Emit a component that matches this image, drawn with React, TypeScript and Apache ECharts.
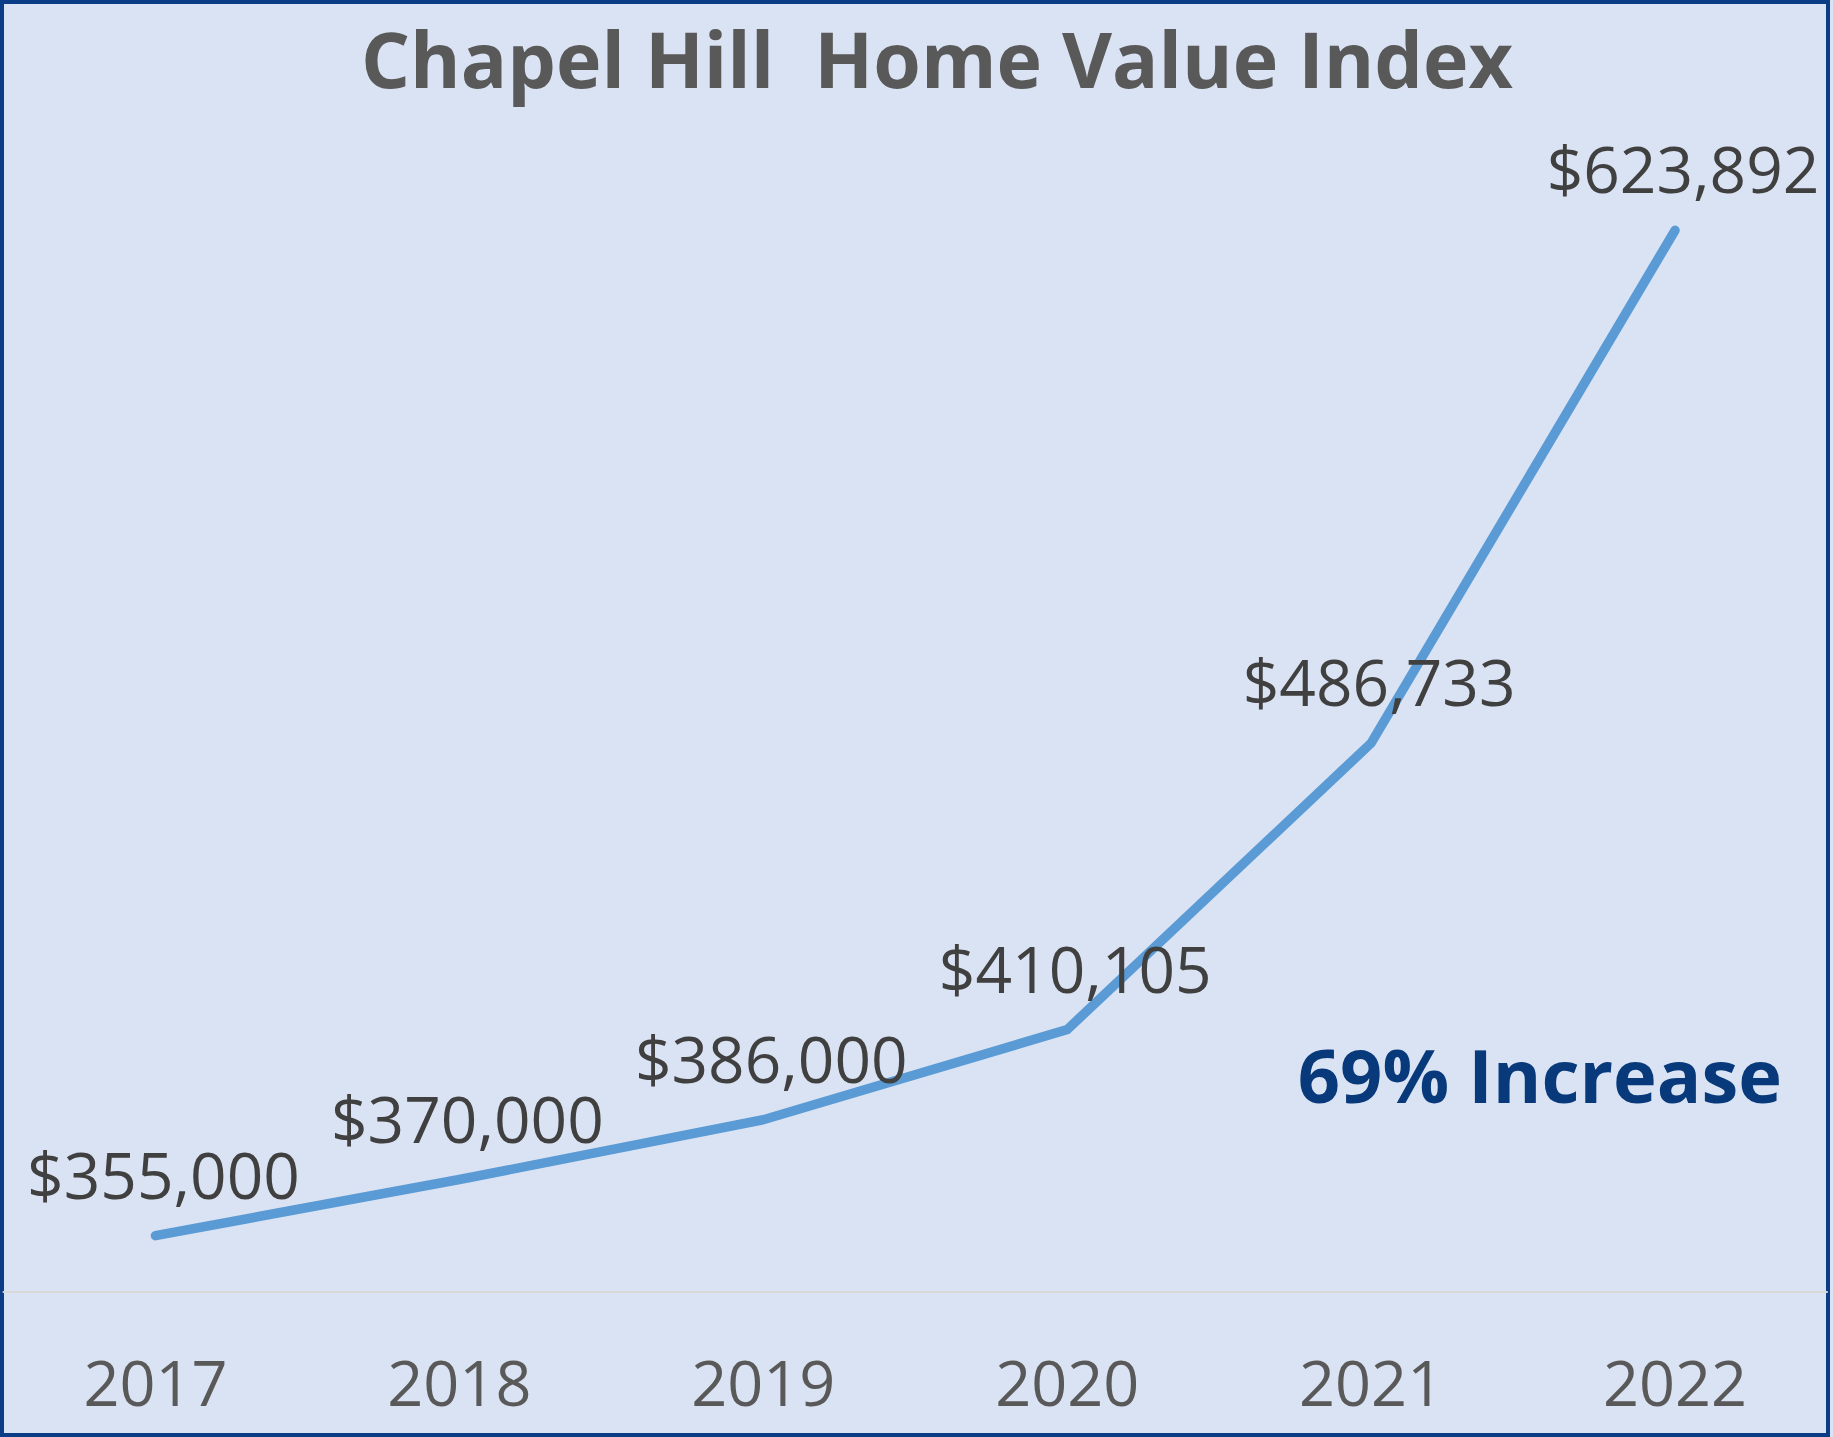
import React, { useEffect, useRef } from "react";
import * as echarts from "echarts";

const years = ["2017", "2018", "2019", "2020", "2021", "2022"];
const homeValues = [355000, 370000, 386000, 410105, 486733, 623892];
const titleText = "Chapel Hill  Home Value Index";
const noteText = "69% Increase";

const fmt = (v: number) => "$" + v.toLocaleString("en-US");

export default function App() {
  const ref = useRef<HTMLDivElement>(null);
  useEffect(() => {
    if (!ref.current) return;
    const chart = echarts.init(ref.current, undefined, { renderer: "svg" });
    chart.setOption({
      animation: false,
      backgroundColor: "#DAE3F3",
      textStyle: { fontFamily: "Open Sans" },
      grid: { left: 3.5, right: 6, top: 132.7, bottom: 1437 - 1291.7 },
      xAxis: {
        type: "category",
        data: years,
        boundaryGap: true,
        axisLine: { show: true, lineStyle: { color: "#D9D9D9", width: 2 } },
        axisTick: { show: false },
        axisLabel: { color: "#595959", fontSize: 63, fontFamily: "Open Sans", margin: 58 },
      },
      yAxis: {
        type: "value",
        min: 340000,
        max: 650000,
        show: false,
        splitLine: { show: false },
      },
      series: [
        {
          type: "line",
          data: homeValues,
          symbol: "circle",
          symbolSize: 1,
          showSymbol: true,
          itemStyle: { color: "rgba(0,0,0,0)" },
          lineStyle: { color: "#5B9BD5", width: 9.5, cap: "round", join: "miter" },
          label: {
            show: true,
            position: "top",
            distance: 29,
            offset: [8, 0],
            formatter: (p: any) => fmt(p.value),
            color: "#404040",
            fontSize: 64,
            fontFamily: "Open Sans",
          },
        },
      ],
      graphic: [
        {
          type: "rect",
          shape: { x: 2, y: 2, width: 1826, height: 1433 },
          style: { fill: "none", stroke: "#0B3D86", lineWidth: 4 },
          silent: true,
        },
        {
          type: "text",
          x: 937,
          y: 58,
          style: {
            text: titleText,
            fill: "#595959",
            font: "bold 77px 'Open Sans'",
            textAlign: "center",
            textVerticalAlign: "middle",
          },
        },
        {
          type: "text",
          x: 1782,
          y: 1074,
          style: {
            text: noteText,
            fill: "#08397B",
            font: "bold 74px 'Open Sans'",
            textAlign: "right",
            textVerticalAlign: "middle",
          },
        },
      ],
    });
    return () => chart.dispose();
  }, []);
  return (
    <div
      ref={ref}
      style={{ position: "fixed", left: 0, top: 0, width: 1833, height: 1437 }}
    />
  );
}
